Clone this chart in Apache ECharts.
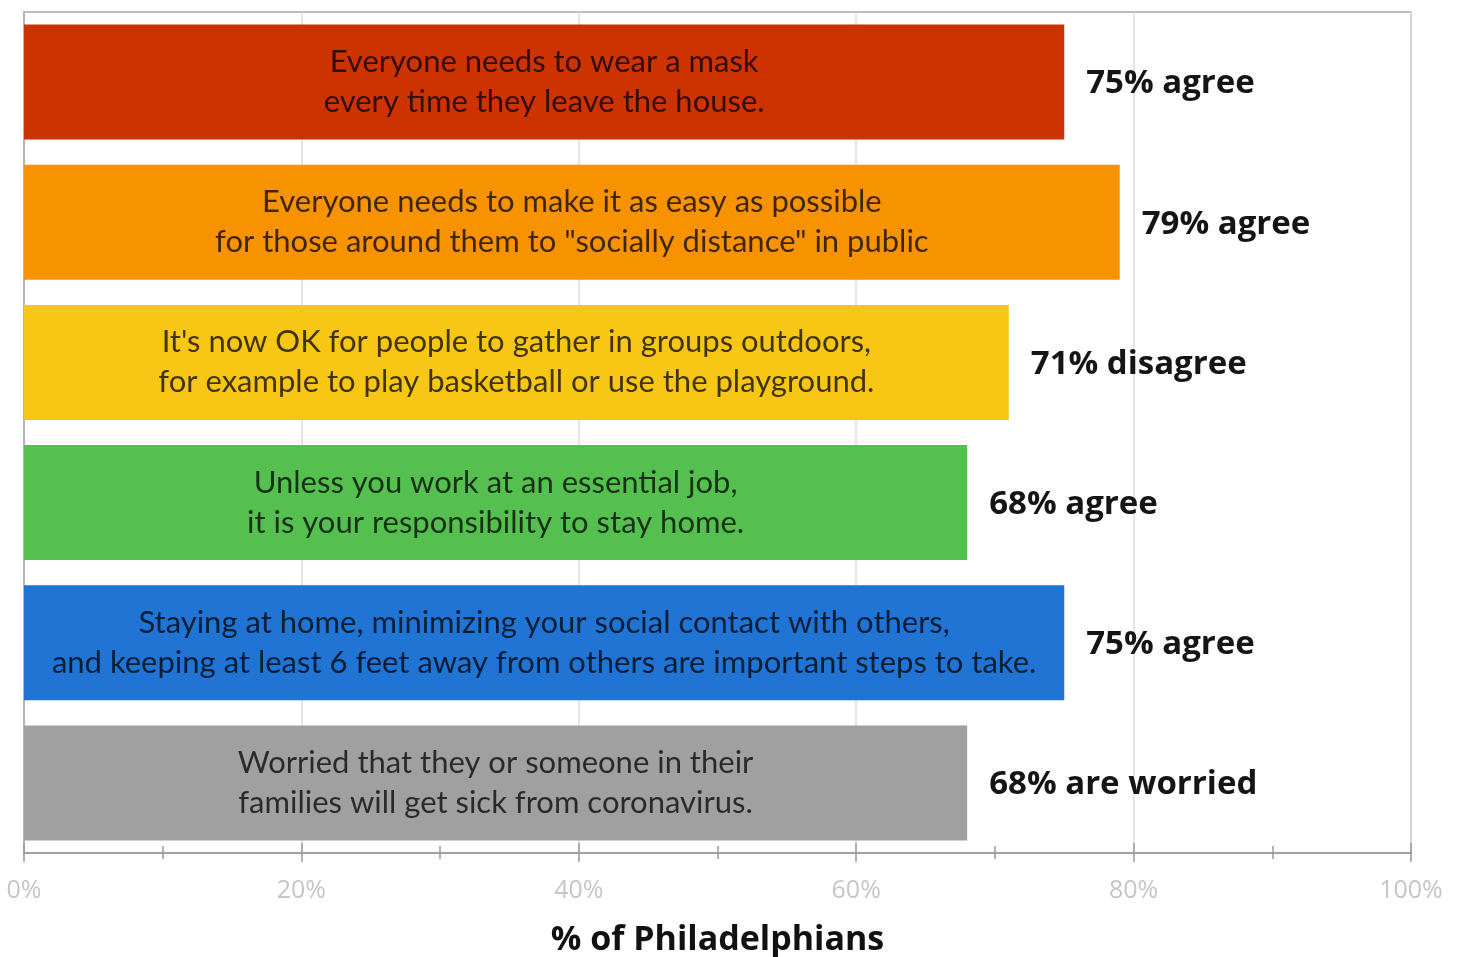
<!DOCTYPE html>
<html>
<head>
<meta charset="utf-8">
<script src="https://cdn.jsdelivr.net/npm/echarts@6/dist/echarts.min.js"></script>
<style>
  html, body { margin: 0; padding: 0; background: #fff; }
  #chart { width: 1461px; height: 957px; }
</style>
</head>
<body>
<div id="chart"></div>
<script>
// statements shown inside each bar (top to bottom)
const statements = [
  'Everyone needs to wear a mask\nevery time they leave the house.',
  'Everyone needs to make it as easy as possible\nfor those around them to "socially distance" in public',
  "It's now OK for people to gather in groups outdoors,\nfor example to play basketball or use the playground.",
  'Unless you work at an essential job,\nit is your responsibility to stay home.',
  'Staying at home, minimizing your social contact with others,\nand keeping at least 6 feet away from others are important steps to take.',
  'Worried that they or someone in their\nfamilies will get sick from coronavirus.'
];
const values = [75, 79, 71, 68, 75, 68];
const summaries = ['75% agree', '79% agree', '71% disagree', '68% agree', '75% agree', '68% are worried'];
const xTicks = [0, 20, 40, 60, 80, 100];

const palette = ['#cc3300', '#f79200', '#f8c614', '#55bf4f', '#1f74d4', '#a0a0a0'];

let chart = echarts.init(document.getElementById('chart'));

const valueAxisBase = {
  type: 'value',
  min: xTicks[0],
  max: xTicks[xTicks.length - 1],
  interval: xTicks[1] - xTicks[0],
  position: 'bottom'
};

const option = {
  animation: false,
  grid: {
    left: 24, right: 50, top: 12, bottom: 104,
    outerBoundsMode: 'none',
    containLabel: false,
    show: true,
    borderColor: '#a8a8a8',
    borderWidth: 1.5
  },
  xAxis: [
    Object.assign({}, valueAxisBase, {
      axisLine: { show: true, lineStyle: { color: '#999', width: 1.5 } },
      axisTick: { show: true, length: 9, lineStyle: { color: '#999', width: 1.5 } },
      minorTick: { show: true, splitNumber: 2, length: 6, lineStyle: { color: '#999', width: 1.5 } },
      axisLabel: {
        formatter: '{value}%',
        color: '#c6c6c6',
        fontSize: 25,
        fontFamily: 'Open Sans',
        margin: 25
      },
      splitLine: { show: true, lineStyle: { color: '#dcdcdc', width: 1.5 } },
      name: '% of Philadelphians',
      nameLocation: 'middle',
      nameGap: 70,
      nameTextStyle: { fontSize: 34, fontWeight: 'bold', fontFamily: 'Open Sans', color: '#111' }
    }),
    Object.assign({}, valueAxisBase, {
      axisLine: { show: false },
      axisTick: { show: true, inside: true, length: 10, lineStyle: { color: '#999', width: 1.5 } },
      minorTick: { show: true, splitNumber: 2, length: 7, lineStyle: { color: '#999', width: 1.5 } },
      axisLabel: { show: false },
      splitLine: { show: false }
    })
  ],
  yAxis: {
    type: 'category',
    inverse: true,
    data: summaries,
    axisLine: { show: true, lineStyle: { color: '#a8a8a8', width: 1.5 } },
    axisTick: { show: false },
    axisLabel: { show: false },
    splitLine: { show: false }
  },
  series: [
    {
      type: 'bar',
      xAxisIndex: 0,
      barWidth: 115,
      data: values.map((v, i) => ({ value: v, itemStyle: { color: palette[i] } })),
      label: {
        show: true,
        position: 'inside',
        formatter: (p) => statements[p.dataIndex],
        color: 'rgba(0,0,0,0.74)',
        fontFamily: 'Lato',
        fontSize: 31,
        lineHeight: 40,
        align: 'center'
      }
    },
    {
      type: 'bar',
      xAxisIndex: 0,
      barWidth: 115,
      barGap: '-100%',
      silent: true,
      data: values,
      itemStyle: { color: 'rgba(0,0,0,0)' },
      label: {
        show: true,
        position: 'right',
        distance: 22,
        offset: [0, 2],
        formatter: (p) => summaries[p.dataIndex],
        color: '#151515',
        fontFamily: 'Open Sans',
        fontWeight: 'bold',
        fontSize: 33
      }
    }
  ]
};

chart.setOption(option);
window.addEventListener('resize', () => {
  chart.resize();
});
</script>
</body>
</html>
